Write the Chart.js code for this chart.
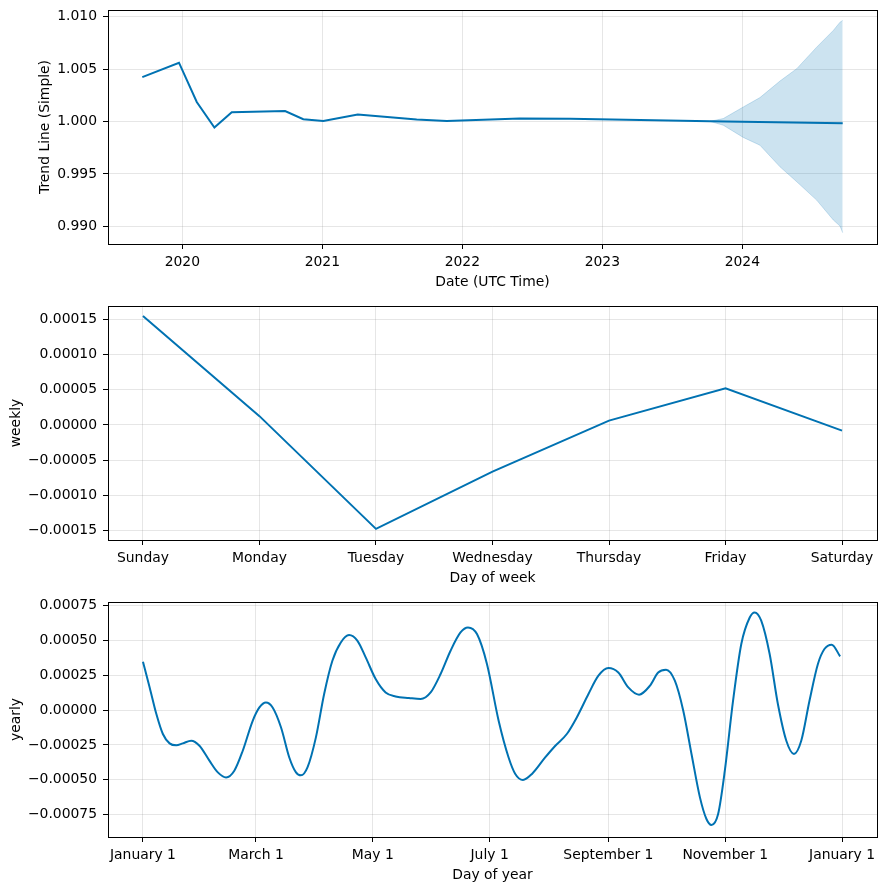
<!DOCTYPE html>
<html>
<head>
<meta charset="utf-8">
<script src="https://cdn.jsdelivr.net/npm/chart.js@4/dist/chart.umd.min.js"></script>
<style>
  html, body { margin: 0; padding: 0; background: #fff; }
  .panel { position: absolute; left: 0; width: 886px; }
  #p1 { top: 0; height: 296px; }
  #p2 { top: 296px; height: 296px; }
  #p3 { top: 592px; height: 297px; }
</style>
</head>
<body>
<div class="panel" id="p1"><canvas id="trendChart" width="886" height="296"></canvas></div>
<div class="panel" id="p2"><canvas id="weeklyChart" width="886" height="296"></canvas></div>
<div class="panel" id="p3"><canvas id="yearlyChart" width="886" height="297"></canvas></div>
<script>
// trend (decimal years)
const trendDates = [2019.714, 2019.976, 2020.103, 2020.229, 2020.353, 2020.734, 2020.864, 2021.007,
  2021.253, 2021.674, 2021.889, 2022.41, 2022.77, 2023.769, 2024.0, 2024.717];
const trendValues = [1.004248, 1.005619, 1.001867, 0.999429, 1.000886, 1.00101, 1.000219, 1.000057,
  1.000667, 1.00019, 1.000057, 1.000286, 1.000276, 1.00002, 0.99999, 0.99984];
const bandDates = [2023.769, 2023.864, 2024.007, 2024.126, 2024.269, 2024.389, 2024.531, 2024.65, 2024.698, 2024.717];
const bandUpper = [1.00002, 1.000286, 1.00139, 1.00229, 1.00387, 1.00505, 1.0071, 1.0087, 1.00949, 1.00965];
const bandLower = [1.00002, 0.99965, 0.99848, 0.99774, 0.99568, 0.99425, 0.9925, 0.9906, 0.99002, 0.98939];
const yearTicks = [2020, 2021, 2022, 2023, 2024];
const trendTicks = [0.990, 0.995, 1.000, 1.005, 1.010];

// weekly
const weekdays = ["Sunday", "Monday", "Tuesday", "Wednesday", "Thursday", "Friday", "Saturday"];
const weeklyValues = [0.000155, 0.0000125, -0.000148, -0.0000665, 0.0000061, 0.0000523, -0.0000081];
const weeklyTicks = [-0.00015, -0.0001, -0.00005, 0, 0.00005, 0.0001, 0.00015];

// yearly (day of year)
const yearDays = [0, 3.5, 7, 10.4, 13.9, 17.4, 20.8, 25.2, 29.5, 34.7, 39.1, 43.4, 47.7, 52.1, 57.3,
  60.8, 64.2, 67.7, 72.1, 76.4, 79.9, 82.5, 85.9, 90.3, 94.6, 98.9, 103.3, 107.6, 112, 116.3, 121.5,
  126.7, 131.9, 138.9, 145, 150.2, 155.4, 160.6, 165.8, 169.7, 174.4, 179.6, 185.7, 190.9, 194.4,
  198.4, 203.1, 210, 215.3, 221.3, 226.5, 232.6, 237.8, 243, 248.2, 253.4, 259, 264.7, 269, 273.1,
  277.7, 282.1, 286.4, 290.8, 294.2, 296.8, 300.3, 303.8, 308.1, 312.4, 316.8, 319.4, 322.8, 327.2,
  331.5, 335.9, 339.9, 343.7, 348, 352.4, 355.8, 359.6, 364];
const yearlyValues = [0.000346, 0.000162, -0.000029, -0.000172, -0.000239, -0.000253, -0.000239,
  -0.00022, -0.000256, -0.000363, -0.000447, -0.000483, -0.000435, -0.000292, -0.000077,
  0.0000186, 0.0000545, 0.0000186, -0.000125, -0.00034, -0.000447, -0.000468, -0.000411, -0.000196,
  0.000115, 0.000353, 0.000484, 0.000537, 0.000496, 0.000377, 0.000222,
  0.000126, 0.0000974, 0.000086, 0.0000788, 0.000126, 0.000258, 0.000425, 0.000556, 0.000592,
  0.000544, 0.00033, -0.0000766, -0.00034, -0.000458,
  -0.000501, -0.000458, -0.00034, -0.000256, -0.000172, -0.000053, 0.000115, 0.000246, 0.000301,
  0.000269, 0.000162, 0.00011, 0.000174, 0.000269, 0.000289,
  0.00021, -0.000005, -0.000315, -0.000626, -0.000781, -0.000824, -0.000745, -0.000435, 0.0000666,
  0.000473, 0.000663, 0.000699, 0.00064, 0.000401,
  0.000043, -0.00022, -0.000315, -0.00022, 0.0000666, 0.00033, 0.000437, 0.000468, 0.000384];
const monthTickDays = [0, 59, 120, 181, 243, 304, 365];
const monthTickLabels = ["January 1", "March 1", "May 1", "July 1", "September 1", "November 1", "January 1"];
const yearlyTicks = [-0.00075, -0.0005, -0.00025, 0, 0.00025, 0.0005, 0.00075];

const BLUE = "#0072B2";
const GRID = "rgba(128,128,128,0.2)";
const FONT = 13.9;

Chart.defaults.font.family = "'DejaVu Sans', sans-serif";
Chart.defaults.font.size = FONT;
Chart.defaults.color = "#000";

// matplotlib style box around the plot area
const frame = {
  id: "frame",
  afterDraw(chart) {
    const a = chart.chartArea;
    const c = chart.ctx;
    c.save();
    c.strokeStyle = "#000";
    c.lineWidth = 1;
    c.strokeRect(Math.round(a.left) + 0.5, Math.round(a.top) + 0.5,
      Math.round(a.right - a.left), Math.round(a.bottom - a.top));
    c.restore();
  }
};

const pts = (xs, ys) => xs.map((x, i) => ({ x: x, y: ys[i] }));
const minus = (s) => s.replace("-", "\u2212");

function makeChart(id, datasets, o) {
  return new Chart(document.getElementById(id), {
    type: "line",
    data: { datasets: datasets },
    plugins: [frame],
    options: {
      responsive: false,
      animation: false,
      devicePixelRatio: 1,
      layout: { padding: { top: 10, right: 9, left: 0, bottom: 0 } },
      plugins: { legend: { display: false }, tooltip: { enabled: false } },
      elements: { point: { radius: 0 } },
      scales: {
        x: {
          type: "linear",
          min: o.xMin, max: o.xMax,
          afterFit: (s) => { s.height = 52; s.paddingLeft = 0; s.paddingRight = 0; },
          afterBuildTicks: (s) => { s.ticks = o.xTicks.map((v) => ({ value: v })); },
          border: { display: false },
          grid: { color: GRID, lineWidth: 1, tickColor: "#000", tickLength: 5, tickWidth: 1 },
          ticks: { maxRotation: 0, autoSkip: false, padding: 5, callback: o.xLabel },
          title: { display: true, text: o.xTitle, padding: { top: 0, bottom: 5 } }
        },
        y: {
          min: o.yMin, max: o.yMax,
          afterFit: (s) => { s.width = 108; s.paddingTop = 0; s.paddingBottom = 0; },
          afterBuildTicks: (s) => { s.ticks = o.yTicks.map((v) => ({ value: v })); },
          border: { display: false },
          grid: { color: GRID, lineWidth: 1, tickColor: "#000", tickLength: 5, tickWidth: 1 },
          ticks: { padding: 6, callback: o.yLabel },
          title: { display: true, text: o.yTitle, padding: { top: o.yTitlePad, bottom: 0 } }
        }
      }
    }
  });
}

makeChart("trendChart", [
  {
    data: pts(bandDates, bandUpper), borderColor: "rgba(0,114,178,0.2)", borderWidth: 1,
    backgroundColor: "rgba(0,114,178,0.2)", fill: "+1", tension: 0
  },
  {
    data: pts(bandDates, bandLower), borderColor: "rgba(0,114,178,0.2)", borderWidth: 1,
    fill: false, tension: 0
  },
  { data: pts(trendDates, trendValues), borderColor: BLUE, borderWidth: 2, fill: false, tension: 0 }
], {
  xMin: 2019.469, xMax: 2024.962, xTicks: yearTicks, xLabel: (v) => String(v), xTitle: "Date (UTC Time)",
  yMin: 0.98831, yMax: 1.01065, yTicks: trendTicks, yLabel: (v) => v.toFixed(3),
  yTitle: "Trend Line (Simple)", yTitlePad: 36.6
});

makeChart("weeklyChart", [
  { data: pts(weekdays.map((d, i) => i), weeklyValues), borderColor: BLUE, borderWidth: 2, fill: false, tension: 0 }
], {
  xMin: -0.3, xMax: 6.3, xTicks: weekdays.map((d, i) => i), xLabel: (v) => weekdays[v], xTitle: "Day of week",
  yMin: -0.0001638, yMax: 0.0001693, yTicks: weeklyTicks, yLabel: (v) => minus(v.toFixed(5)),
  yTitle: "weekly", yTitlePad: 8.3
});

makeChart("yearlyChart", [
  {
    data: pts(yearDays, yearlyValues), borderColor: BLUE, borderWidth: 2, fill: false,
    cubicInterpolationMode: "monotone"
  }
], {
  xMin: -18.25, xMax: 383.25, xTicks: monthTickDays,
  xLabel: (v) => monthTickLabels[monthTickDays.indexOf(v)], xTitle: "Day of year",
  yMin: -0.00091, yMax: 0.000774, yTicks: yearlyTicks, yLabel: (v) => minus(v.toFixed(5)),
  yTitle: "yearly", yTitlePad: 8.3
});
</script>
</body>
</html>
